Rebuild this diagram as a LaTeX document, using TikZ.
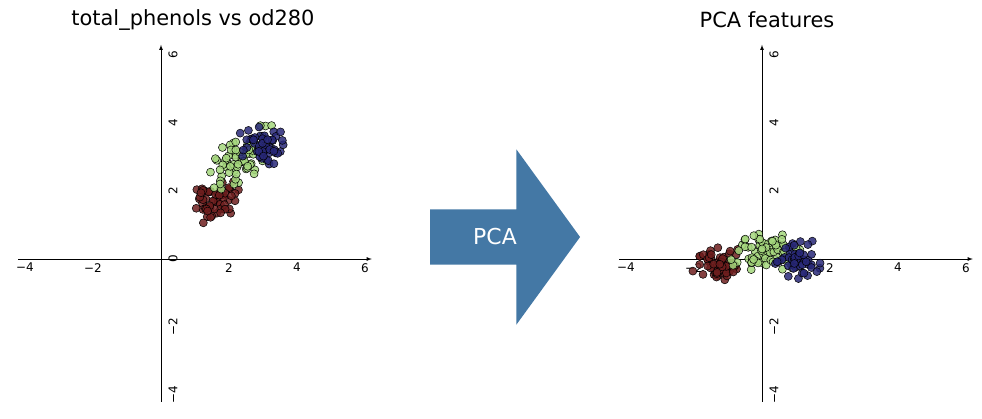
\documentclass[tikz,border=0pt]{standalone}
\usepackage{fontspec}
\setmainfont{DejaVu Sans}
\usetikzlibrary{shapes.arrows}
\definecolor{clsred}{RGB}{110,30,30}
\definecolor{clsgreen}{RGB}{165,215,125}
\definecolor{clsblue}{RGB}{40,40,120}
\definecolor{pcablue}{RGB}{68,120,165}
\begin{document}
\begin{tikzpicture}[x=1bp,y=-1bp,
                    axis/.style={thick,-latex},
                    tick label/.style={font=\fontsize{12}{14}\selectfont},
                    dot/.style={circle,draw=black,line width=0.5pt,inner sep=0pt,minimum size=8bp,fill opacity=0.85},
                    plot title/.style={font=\fontsize{21}{24}\selectfont}]

  \useasboundingbox (0,0) rectangle (982,418);
  \pgfmathsetseed{42}

  % left plot
  \node[plot title] (title1) at (193,20) {total\_phenols vs od280};
  \begin{scope}[shift={(161,259)},x=34bp,y=34bp]
    \coordinate (l-west) at (-4.2,0);
    \coordinate (l-east) at (6.2,0);
    \coordinate (l-south) at (0,-4.2);
    \coordinate (l-north) at (0,6.3);
    \draw[axis] (l-west) -- (l-east);
    \draw[axis] (l-south) -- (l-north);
    \foreach \x/\t in {-4/−4,-2/−2,2/2,4/4,6/6}
      \node[tick label,below] (lx\x) at (\x,-0.02) {\t};
    \foreach \y/\t in {-4/−4,-2/−2,0/0,2/2,4/4,6/6}
      \node[tick label,rotate=90,anchor=north] (ly\y) at (0.12,\y) {\t};
    \foreach \i in {1,...,59} {
      \pgfmathsetmacro\px{1.7+0.45*rand+0.25*rand}
      \pgfmathsetmacro\py{1.75+0.4*rand+0.25*rand+0.3*(\px-1.7)}
      \node[dot,fill=clsred] (lr\i) at (\px,\py) {};
    }
    \foreach \i in {1,...,71} {
      \pgfmathsetmacro\px{2.35+0.6*rand+0.35*rand}
      \pgfmathsetmacro\py{2.95+0.45*rand+0.3*rand+0.5*(\px-2.35)}
      \node[dot,fill=clsgreen] (lg\i) at (\px,\py) {};
    }
    \foreach \i in {1,...,48} {
      \pgfmathsetmacro\px{3.0+0.5*rand+0.3*rand}
      \pgfmathsetmacro\py{3.3+0.4*rand+0.25*rand}
      \node[dot,fill=clsblue] (lb\i) at (\px,\py) {};
    }
  \end{scope}

  % transformation arrow
  \node[single arrow,fill=pcablue,draw=none,inner xsep=2bp,inner ysep=0bp,
        text height=55bp,text depth=0bp,
        single arrow head extend=60bp,single arrow tip angle=108,minimum height=150bp,
        text=white,font=\fontsize{22}{24}\selectfont]
    (pca) at (495,237) {\raisebox{20bp}{PCA}\hspace{50bp}};

  % right plot
  \node[plot title] (title2) at (767,20) {PCA features};
  \begin{scope}[shift={(762,259)},x=34bp,y=34bp]
    \coordinate (r-west) at (-4.2,0);
    \coordinate (r-east) at (6.2,0);
    \coordinate (r-south) at (0,-4.2);
    \coordinate (r-north) at (0,6.3);
    \draw[axis] (r-west) -- (r-east);
    \draw[axis] (r-south) -- (r-north);
    \foreach \x/\t in {-4/−4,-2/−2,2/2,4/4,6/6}
      \node[tick label,below] (rx\x) at (\x,-0.02) {\t};
    \foreach \y/\t in {-4/−4,-2/−2,0/0,2/2,4/4,6/6}
      \node[tick label,rotate=90,anchor=north] (ry\y) at (0.12,\y) {\t};
    \foreach \i in {1,...,59} {
      \pgfmathsetmacro\px{-1.3+0.5*rand+0.3*rand}
      \pgfmathsetmacro\py{-0.1+0.35*rand+0.2*rand}
      \node[dot,fill=clsred] (rr\i) at (\px,\py) {};
    }
    \foreach \i in {1,...,71} {
      \pgfmathsetmacro\px{0.1+0.8*rand+0.3*rand}
      \pgfmathsetmacro\py{0.2+0.4*rand+0.2*rand}
      \node[dot,fill=clsgreen] (rg\i) at (\px,\py) {};
    }
    \foreach \i in {1,...,48} {
      \pgfmathsetmacro\px{1.0+0.45*rand+0.3*rand}
      \pgfmathsetmacro\py{-0.1+0.45*rand+0.25*rand}
      \node[dot,fill=clsblue] (rb\i) at (\px,\py) {};
    }
  \end{scope}

\end{tikzpicture}
\end{document}
